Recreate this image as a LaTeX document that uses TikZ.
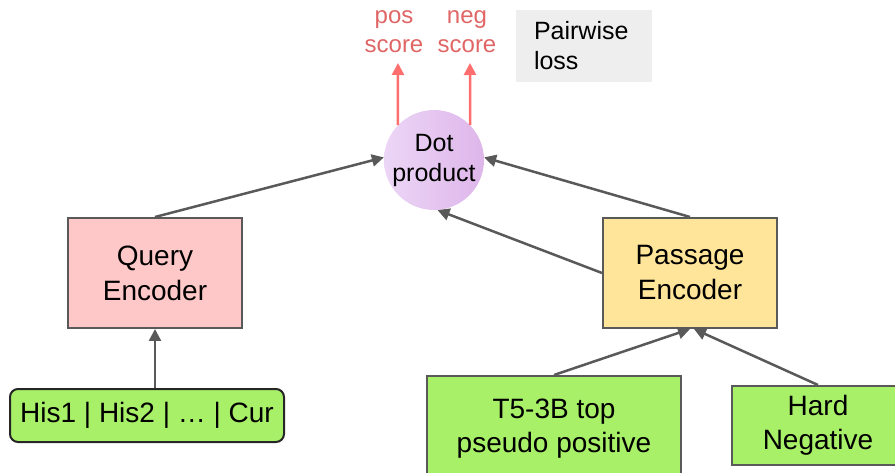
\documentclass[tikz,border=0pt]{standalone}
\usepackage{fontspec}
\setmainfont{Liberation Sans}
\usetikzlibrary{arrows.meta,shapes.geometric}

\definecolor{edgegray}{RGB}{89,89,89}
\definecolor{querypink}{RGB}{255,200,200}
\definecolor{passyellow}{RGB}{255,229,153}
\definecolor{inputgreen}{RGB}{168,240,104}
\definecolor{scorered}{RGB}{224,102,102}
\definecolor{arrowred}{RGB}{255,110,110}
\definecolor{lossgray}{RGB}{238,238,238}
\definecolor{dotleft}{RGB}{236,214,246}
\definecolor{dotright}{RGB}{222,182,234}

\begin{document}
\begin{tikzpicture}[x=1pt,y=-1pt,
  encoder/.style={draw=edgegray,line width=2pt,minimum width=174pt,minimum height=110pt,
    align=center,font=\fontsize{28}{35}\selectfont},
  inputbox/.style={draw=edgegray,line width=2pt,fill=inputgreen,align=center,
    font=\fontsize{28}{34}\selectfont},
  flow/.style={draw=edgegray,line width=2.5pt,-{Triangle[length=12pt,width=12pt]}},
  scoreflow/.style={draw=arrowred,line width=2.5pt,-{Triangle[length=12pt,width=12pt]}},
  scorelabel/.style={text=scorered,align=center,font=\fontsize{24}{29}\selectfont},
]
\clip (0,0) rectangle (895,473);

% encoders
\node[encoder,fill=querypink] (query) at (155,273) {Query\\Encoder};
\node[encoder,fill=passyellow] (passage) at (690,273) {Passage\\Encoder};

% inputs
\node[inputbox,draw=black!85,rounded corners=8pt,minimum width=274pt,minimum height=53pt]
  (hist) at (147,415.5) {His1 | His2 | … | Cur};
\node[inputbox,minimum width=254pt,minimum height=106pt] (pseudo) at (554,429)
  {T5-3B top\\pseudo positive};
\node[inputbox,minimum width=172pt,minimum height=79pt] (hardneg) at (818,425.5)
  {Hard\\Negative};

% scoring
\node[circle,minimum size=100pt,inner sep=0pt,left color=dotleft,right color=dotright,
  align=center,font=\fontsize{25}{30}\selectfont] (dot) at (434,160) {Dot\\product};

\node[scorelabel] (pos) at (394,32) {pos\\score};
\node[scorelabel] (neg) at (467,32) {neg\\score};
\coordinate (posend) at (398,63);
\coordinate (negend) at (470,63);

\node[fill=lossgray,minimum width=136pt,minimum height=72pt,text width=100pt,
  inner xsep=18pt,align=left,font=\fontsize{25}{30}\selectfont] (loss) at (584,46)
  {Pairwise\\loss};

% connectors
\draw[flow] (query.south |- hist.north) -- (query.south);
\draw[flow] (pseudo.north) -- (passage.south);
\draw[flow] (hardneg.north) -- ([xshift=4pt]passage.south);
\draw[flow] (query.north) -- (dot.177);
\draw[flow] (passage.north) -- (dot.3);
\draw[flow] (passage.west) -- (dot.-86);
\draw[scoreflow] (dot.136) -- (posend);
\draw[scoreflow] (dot.44) -- (negend);
\end{tikzpicture}
\end{document}
